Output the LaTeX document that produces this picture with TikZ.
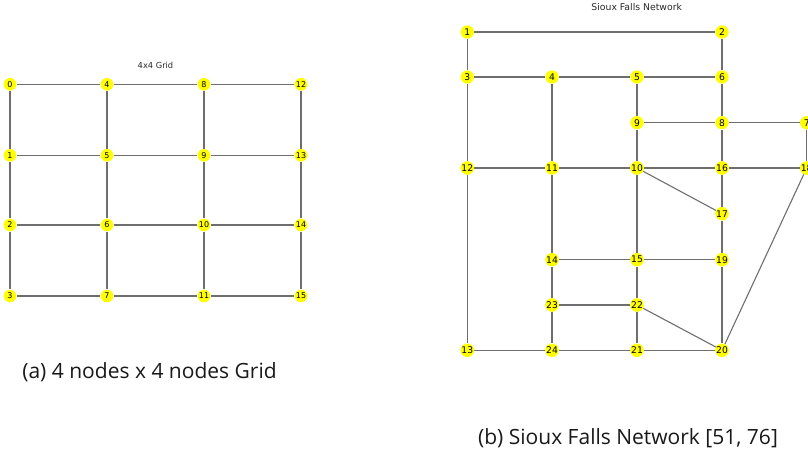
\documentclass[tikz,border=0pt]{standalone}
\usepackage{fontspec}
\setmainfont{DejaVu Sans}
\newfontfamily\capfont{Open Sans}
\usetikzlibrary{backgrounds}
\definecolor{nodeyellow}{RGB}{255,255,0}
\definecolor{edgegray}{RGB}{110,110,110}
\definecolor{titlegray}{RGB}{40,40,40}
\tikzset{
  gnode/.style={circle,fill=nodeyellow,draw=none,minimum size=12.7pt,inner sep=0pt,font=\fontsize{8}{8}\selectfont},
  snode/.style={circle,fill=nodeyellow,draw=none,minimum size=13.3pt,inner sep=0pt,font=\fontsize{9.2}{9.2}\selectfont},
  edge/.style={draw=edgegray,line width=1.1pt},
  ttl/.style={font=\fontsize{8.3}{8.3}\selectfont,text=titlegray},
  captext/.style={font=\capfont\fontsize{21}{23}\selectfont,inner sep=0pt,text=black!90}
}
\begin{document}
\begin{tikzpicture}[x=1pt,y=-1pt]
\useasboundingbox (0,0) rectangle (808,462);
\clip (0,0) rectangle (808,462);
% ---- 4x4 grid ----
\node[ttl] (t1) at (155.5,65.7) {4x4 Grid};
\foreach \c/\x in {0/10,1/107,2/204,3/301}{
  \foreach \r/\y in {0/84.3,1/155.3,2/225,3/296}{
    \pgfmathtruncatemacro{\id}{4*\c+\r}
    \node[gnode] (g\id) at (\x,\y) {\id};
  }
}
\begin{scope}[on background layer]
\foreach \a/\b in {0/1,1/2,2/3,4/5,5/6,6/7,8/9,9/10,10/11,12/13,13/14,14/15,
  0/4,4/8,8/12,1/5,5/9,9/13,2/6,6/10,10/14,3/7,7/11,11/15}{
  \draw[edge] (g\a) -- (g\b);
}
\end{scope}
% ---- Sioux Falls ----
\node[ttl,font=\fontsize{9.3}{9.3}\selectfont] (t2) at (636.7,7) {Sioux Falls Network};
\foreach \n/\x/\y in {1/467.3/32, 2/722/32,
  3/467.3/77, 4/552/77, 5/637/77, 6/722/77,
  9/637/122.7, 8/722/122.7, 7/806.7/122.7,
  12/467.3/168, 11/552/168, 10/637/168, 16/722/168, 18/806.7/168,
  17/722/213.7,
  14/552/259.7, 15/637/259.7, 19/722/259.7,
  23/552/305, 22/637/305,
  13/467.3/350.3, 24/552/350.3, 21/637/350.3, 20/722/350.3}{
  \node[snode] (s\n) at (\x,\y) {\n};
}
\begin{scope}[on background layer]
\foreach \a/\b in {1/2,1/3,2/6,3/4,4/5,5/6,3/12,4/11,5/9,6/8,9/8,8/7,7/18,9/10,8/16,
  12/11,11/10,10/16,16/18,10/17,16/17,17/19,12/13,11/14,10/15,14/15,15/19,
  14/23,15/22,23/22,22/21,23/24,22/20,19/20,18/20,13/24,24/21,21/20}{
  \draw[edge] (s\a) -- (s\b);
}
\end{scope}
% ---- captions ----
\node[captext] (c1) at (149.5,372) {(a) 4 nodes x 4 nodes Grid};
\node[captext] (c2) at (628,438) {(b) Sioux Falls Network [51, 76]};
\end{tikzpicture}
\end{document}
